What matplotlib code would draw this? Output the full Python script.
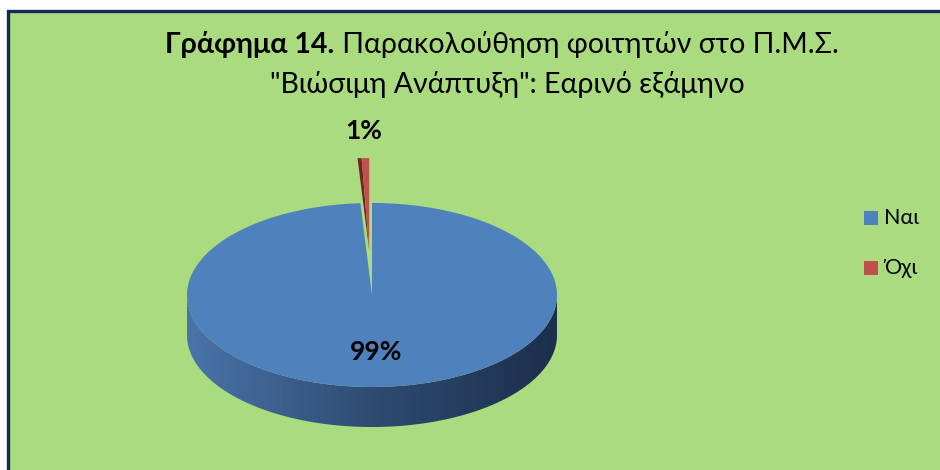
import numpy as np
import matplotlib
matplotlib.use("Agg")
import matplotlib.pyplot as plt
from matplotlib.patches import Polygon, Rectangle
from matplotlib.colors import LinearSegmentedColormap

plt.rcParams['font.family'] = ['Lato', 'Noto Sans', 'DejaVu Sans']

# data
labels = ['Ναι', 'Όχι']
values = [99, 1]
pct_labels = ['99%', '1%']
colors = ['#4F81BD', '#C0504D']
title_bold = 'Γράφημα 14.'
title_rest = ' Παρακολούθηση φοιτητών στο Π.Μ.Σ.'
title_line2 = '"Βιώσιμη Ανάπτυξη": Εαρινό εξάμηνο'

bg_green = '#AADB7E'
navy = '#142A5C'

W, H = 940, 470
fig = plt.figure(figsize=(W / 100, H / 100), dpi=100)
fig.patch.set_facecolor('white')
ax = fig.add_axes([0, 0, 1, 1])
ax.set_xlim(0, W)
ax.set_ylim(H, 0)
ax.axis('off')

# panel with border (only left/top edges visible)
ax.add_patch(Rectangle((7.5, 10.5), 2000, 2000, facecolor=bg_green,
                       edgecolor=navy, lw=2.4, zorder=0))

# pie geometry (pixels)
cx, cy = 372, 295
a, b = 185, 92
depth = 40
explode_px = 45


def rim(t):
    # t = angle in degrees, clockwise from 12 o'clock
    r = np.radians(t)
    return cx + a * np.sin(r), cy - b * np.cos(r)


fracs = np.array(values) / sum(values)
bounds = np.concatenate([[0], np.cumsum(fracs) * 360])

# blue slice: side (front half only) filled with a horizontal gradient
t0, t1 = bounds[0], bounds[1]
ts = np.linspace(270, 90, 300)
xs, ys = rim(ts)
side = Polygon(np.column_stack([np.r_[xs, xs[::-1]],
                                np.r_[ys, ys[::-1] + depth]]),
               closed=True, facecolor='none', edgecolor='none', zorder=2)
ax.add_patch(side)
side_cmap = LinearSegmentedColormap.from_list(
    'side', ['#4A74AA', '#2F4B72', '#1C2F4C'])
grad = np.linspace(0, 1, 256)[None, :]
im = ax.imshow(grad, cmap=side_cmap, extent=(cx - a, cx + a, cy + b + depth, cy),
               aspect='auto', zorder=2, interpolation='bilinear')
im.set_clip_path(side)
ax.set_xlim(0, W)
ax.set_ylim(H, 0)

tt = np.linspace(t0, t1, 400)
x, y = rim(tt)
ax.add_patch(Polygon(np.column_stack([np.r_[cx, x], np.r_[cy, y]]),
                     closed=True, facecolor=colors[0], edgecolor='none',
                     zorder=3))

# red slice, exploded
t0, t1 = bounds[1], bounds[2]
tm = np.radians((t0 + t1) / 2)
dx, dy = explode_px * np.sin(tm) * a / b, -explode_px * np.cos(tm)
tsplit = t0 + (t1 - t0) * 0.35
tt = np.linspace(t0, tsplit, 20)
x, y = rim(tt)
ax.add_patch(Polygon(np.column_stack([np.r_[cx, x] + dx, np.r_[cy, y] + dy]),
                     closed=True, facecolor='#6E2523', edgecolor='none',
                     zorder=4))
tt = np.linspace(tsplit, t1, 20)
x, y = rim(tt)
ax.add_patch(Polygon(np.column_stack([np.r_[cx, x] + dx, np.r_[cy, y] + dy]),
                     closed=True, facecolor=colors[1], edgecolor='none',
                     zorder=4))

# percent labels
tmb = np.radians((bounds[0] + bounds[1]) / 2)
ax.text(cx + 0.62 * a * np.sin(tmb), cy - 0.62 * b * np.cos(tmb),
        pct_labels[0], ha='center', va='center', fontsize=19,
        fontweight='bold', color='black', zorder=5)
xr, yr = rim((t0 + t1) / 2)
ax.text(xr + dx, yr + dy - 27, pct_labels[1], ha='center', va='center',
        fontsize=19, fontweight='bold', color='black', zorder=5)

# title: bold part + regular part, centred together
fig.canvas.draw()
r = fig.canvas.get_renderer()
tb_ = ax.text(0, 45, title_bold, fontsize=20.5, fontweight='bold',
              ha='left', va='center')
tr_ = ax.text(0, 45, title_rest, fontsize=20.5, ha='left', va='center')
wb = tb_.get_window_extent(r).width
wr = tr_.get_window_extent(r).width
x0 = 502 - (wb + wr) / 2
tb_.set_x(x0)
tr_.set_x(x0 + wb)
ax.text(507, 84, title_line2, fontsize=20.5, ha='center', va='center')

# legend
for i, (lab, c) in enumerate(zip(labels, colors)):
    yy = 218 + i * 50
    ax.add_patch(Rectangle((864, yy - 7), 14, 14, facecolor=c,
                           edgecolor='none', zorder=5))
    ax.text(884, yy, lab, fontsize=15.5, ha='left', va='center')

fig.savefig('out.png', dpi=100, facecolor=fig.get_facecolor())
